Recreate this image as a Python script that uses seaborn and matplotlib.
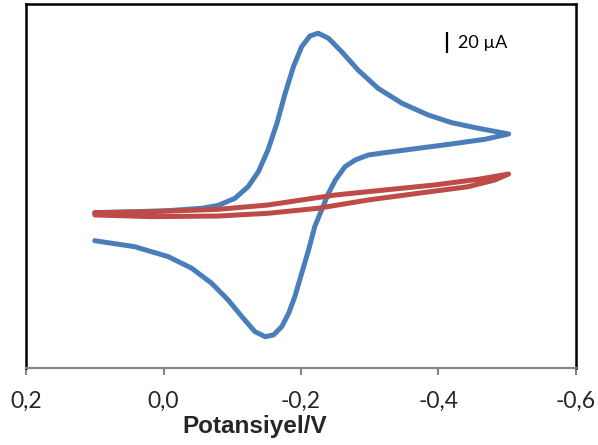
import matplotlib
matplotlib.use("Agg")
import matplotlib.pyplot as plt
import seaborn as sns
import pandas as pd

# ---- data (potential in V, current in µA) ----
# blue: forward scan (0.1 -> -0.5 V) then return scan (-0.5 -> 0.1 V)
blue_v = [0.100, 0.042, -0.007, -0.056, -0.080, -0.104, -0.123, -0.138, -0.152, -0.165,
          -0.177, -0.189, -0.201, -0.213, -0.225, -0.240, -0.259, -0.283, -0.312, -0.347,
          -0.385, -0.419, -0.458, -0.502,
          -0.468, -0.419, -0.371, -0.322, -0.298, -0.279, -0.264, -0.250, -0.240, -0.230,
          -0.220, -0.211, -0.201, -0.191, -0.182, -0.172, -0.160, -0.148, -0.133, -0.114,
          -0.094, -0.070, -0.041, -0.007, 0.042, 0.100]
blue_i = [0.3, 1.2, 2.2, 4.5, 7.3, 14.0, 25.0, 39.3, 60.0, 85.4,
          114.0, 139.3, 158.3, 168.5, 171.1, 166.3, 153.6, 136.1, 118.7, 104.4,
          93.3, 86.0, 80.6, 75.2,
          70.2, 65.7, 61.6, 57.4, 55.2, 50.5, 44.1, 31.4, 18.8, 2.9,
          -13.0, -35.2, -57.4, -79.7, -95.5, -108.2, -116.1, -117.8, -113.0, -98.7,
          -82.8, -66.9, -52.6, -41.6, -32.1, -26.4]

# red: background scan, same direction
red_v = [0.100, 0.017, -0.080, -0.152, -0.201, -0.250, -0.322, -0.395, -0.458, -0.502,
         -0.482, -0.443, -0.371, -0.298, -0.225, -0.152, -0.080, 0.017, 0.100]
red_i = [0.3, 1.2, 3.5, 7.6, 12.4, 17.1, 21.9, 26.7, 32.1, 37.1,
         31.4, 25.0, 18.8, 12.4, 4.5, -0.3, -2.9, -3.5, -1.9]

x_ticks = [0.2, 0.0, -0.2, -0.4, -0.6]
x_tick_labels = ["0,2", "0,0", "-0,2", "-0,4", "-0,6"]
x_label = "Potansiyel/V"

scale_len = 20          # µA
scale_text = "20 µA"
scale_x = -0.412
scale_y0 = 152

blue_col = "#4A7EBB"
red_col = "#BE4B48"

sns.set_style("white")
plt.rcParams["font.family"] = ["Lato", "DejaVu Sans"]

fig = plt.figure(figsize=(5.98, 4.45), dpi=100)
ax = fig.add_axes([0.0435, 0.1737, 0.9197, 0.8184])

df_b = pd.DataFrame({"V": blue_v, "I": blue_i})
df_r = pd.DataFrame({"V": red_v, "I": red_i})
sns.lineplot(data=df_b, x="V", y="I", sort=False, estimator=None, ax=ax,
             color=blue_col, linewidth=3.6, solid_capstyle="round", solid_joinstyle="round")
sns.lineplot(data=df_r, x="V", y="I", sort=False, estimator=None, ax=ax,
             color=red_col, linewidth=3.6, solid_capstyle="round", solid_joinstyle="round")

ax.set_xlim(0.2, -0.6)
ax.set_ylim(-147.3, 199.4)
ax.set_yticks([])
ax.set_ylabel("")
ax.set_xticks(x_ticks)
ax.set_xticklabels(x_tick_labels, fontsize=16.5)
ax.tick_params(axis="x", direction="out", length=5, width=1.5, color="#868686",
               pad=12, bottom=True)

for s in ["left", "top", "right"]:
    ax.spines[s].set_color("black")
    ax.spines[s].set_linewidth(1.8)
ax.spines["bottom"].set_color("#868686")
ax.spines["bottom"].set_linewidth(1.6)
ax.spines["bottom"].set_zorder(5)

ax.set_xlabel(x_label, fontsize=17.5, fontweight="bold",
              family=["Liberation Sans", "DejaVu Sans"])
ax.xaxis.label.set_va("baseline")
ax.xaxis.set_label_coords(0.415, -0.178)

# scale bar
ax.plot([scale_x, scale_x], [scale_y0, scale_y0 + scale_len], color="black",
        linewidth=1.6, solid_capstyle="butt")
ax.text(scale_x - 0.016, scale_y0 + scale_len / 2, scale_text, fontsize=13,
        va="center", ha="left", color="black")

fig.savefig("out.png", dpi=100)
